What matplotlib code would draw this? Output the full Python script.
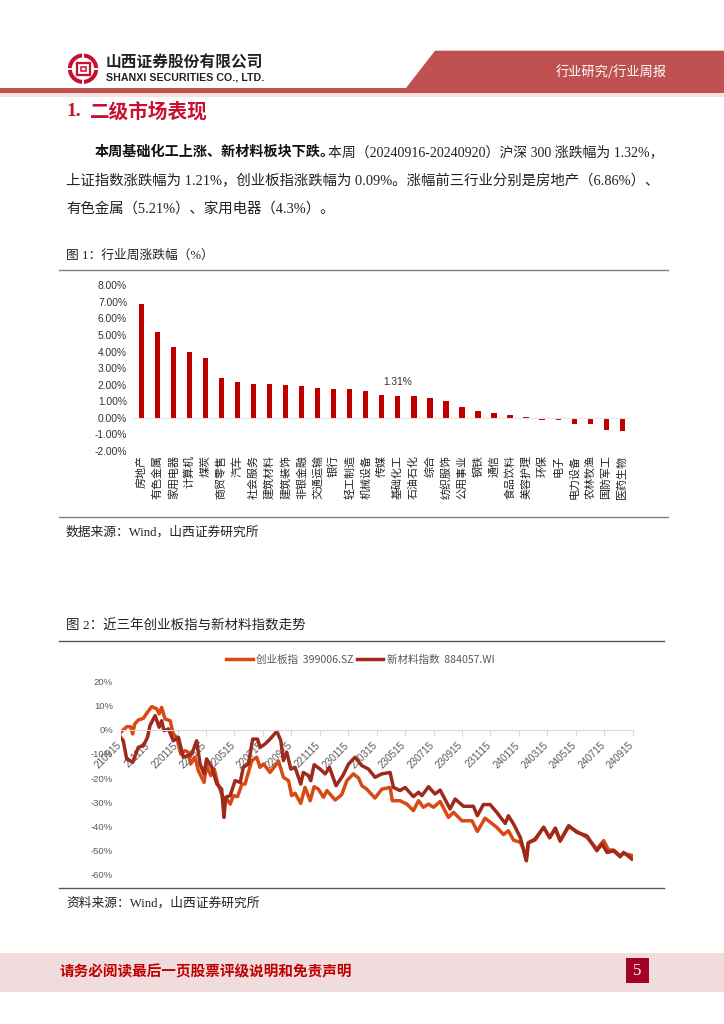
import matplotlib
matplotlib.use("Agg")
import matplotlib.pyplot as plt
from matplotlib.patches import Polygon, Rectangle, Wedge
from matplotlib.transforms import ScaledTranslation

CJK = ['Noto Sans CJK SC', 'DejaVu Sans']
SERIF = ['Liberation Serif', 'Noto Sans CJK SC']
SANS = ['Liberation Sans', 'Noto Sans CJK SC']
plt.rcParams['font.family'] = SANS

# ---- chart 1 data
industries = ['房地产', '有色金属', '家用电器', '计算机', '煤炭', '商贸零售', '汽车', '社会服务',
              '建筑材料', '建筑装饰', '非银金融', '交通运输', '银行', '轻工制造', '机械设备', '传媒',
              '基础化工', '石油石化', '综合', '纺织服饰', '公用事业', '钢铁', '通信', '食品饮料',
              '美容护理', '环保', '电子', '电力设备', '农林牧渔', '国防军工', '医药生物']
weekly_change = [6.86, 5.21, 4.30, 4.00, 3.63, 2.43, 2.18, 2.05, 2.04, 1.98, 1.93, 1.78, 1.77, 1.74,
                 1.60, 1.39, 1.31, 1.30, 1.20, 1.04, 0.65, 0.43, 0.30, 0.19, 0.05, -0.10, -0.13,
                 -0.35, -0.35, -0.76, -0.80]
labelled_industry = '基础化工'

# ---- chart 2 data (x in units of two-month date ticks)
date_ticks = ['210915', '211115', '220115', '220315', '220515', '220715', '220915', '221115', '230115',
              '230315', '230515', '230715', '230915', '231115', '240115', '240315', '240515', '240715',
              '240915']
chinext_x = [0, .09, .21, .35, .42, .49, .62, .80, .94, 1.09, 1.27, 1.35, 1.44, 1.56, 1.74, 1.85, 1.97,
             2.11, 2.26, 2.38, 2.46, 2.61, 2.73, 2.93, 3.02, 3.17, 3.29, 3.40, 3.61, 3.69, 3.85, 3.96,
             4.11, 4.26, 4.37, 4.49, 4.61, 4.78, 4.90, 5.02, 5.25, 5.55, 5.72, 5.90, 6.01, 6.13, 6.33,
             6.48, 6.66, 6.80, 6.95, 7.13, 7.25, 7.54, 7.77, 7.95, 8.18, 8.36, 8.48, 8.65, 8.94, 9.18,
             9.47, 9.55, 9.82, 10.06, 10.29, 10.47, 10.64, 10.82, 11.0, 11.23, 11.52, 11.70, 12.0,
             12.35, 12.54, 12.81, 13.22, 13.46, 13.63, 13.81, 14.05, 14.16, 14.26, 14.34, 14.57,
             14.87, 15.08, 15.28, 15.45, 15.75, 16.04, 16.39, 16.74, 16.98, 17.15, 17.33, 17.56,
             17.68, 18.0]
chinext_y = [-1.1, -.1, 1.2, 1.2, -1.8, 2.3, 4.0, 4.7, 7.2, 9.5, 8.6, 6.5, 9.2, 4.4, 3.7, -1.8, -3.2,
             -10.1, -8.7, -9.4, -14.2, -11.4, -17.0, -21.8, -14.9, -19.0, -16.3, -21.8, -28.7, -28.0,
             -30.8, -27.3, -27.7, -22.5, -22.5, -17.7, -12.8, -11.4, -15.6, -14.2, -17.7, -13.1, -19.7,
             -21.1, -27.3, -26.3, -30.5, -23.9, -29.4, -23.6, -24.6, -28.0, -25.2, -29.1, -26.9, -21.1,
             -18.3, -20.0, -23.2, -24.6, -28.3, -24.6, -23.9, -29.4, -29.4, -30.8, -33.5, -29.4, -32.1,
             -30.8, -32.1, -29.7, -36.3, -34.2, -37.7, -37.7, -42.1, -36.6, -40.4, -43.4, -41.8, -45.7,
             -46.6, -49.4, -54.2, -46.6, -45.7, -40.4, -44.8, -41.1, -46.2, -40.1, -42.1, -44.6, -49.4,
             -45.9, -49.8, -49.8, -52.1, -51.2, -52.1]
newmat_x = [0, .09, .21, .42, .62, .80, .94, 1.03, 1.21, 1.35, 1.44, 1.52, 1.68, 1.85, 2.03, 2.20, 2.50,
            2.67, 2.79, 2.93, 3.02, 3.20, 3.38, 3.55, 3.63, 3.69, 3.85, 4.02, 4.20, 4.31, 4.49, 4.64,
            4.81, 4.90, 5.08, 5.25, 5.49, 5.63, 5.72, 5.84, 5.98, 6.13, 6.33, 6.42, 6.60, 6.68, 6.80,
            7.01, 7.19, 7.34, 7.57, 7.81, 8.01, 8.24, 8.48, 8.71, 8.94, 9.18, 9.47, 9.59, 9.82, 10.0,
            10.29, 10.47, 10.59, 10.82, 11.05, 11.23, 11.58, 11.76, 12.05, 12.40, 12.54, 12.75, 12.99,
            13.22, 13.52, 13.63, 13.81, 14.05, 14.26, 14.32, 14.57, 14.87, 15.08, 15.28, 15.45, 15.75,
            16.04, 16.39, 16.74, 16.92, 17.10, 17.33, 17.56, 17.68, 17.97]
newmat_y = [-3.2, -4.6, -12.1, -13.5, -7.3, -6.6, -3.2, 1.7, 5.8, 1.0, 3.7, -.4, .3, -4.6, -3.2, -11.4,
            -10.1, -4.6, -14.2, -18.3, -12.1, -15.6, -22.5, -24.6, -36.3, -28.0, -27.3, -21.1, -21.8,
            -15.6, -14.2, -3.9, -3.9, -7.3, -5.9, -3.9, -.7, -4.6, -12.8, -9.4, -16.3, -15.6, -22.5,
            -17.7, -19.0, -21.1, -14.5, -16.3, -18.3, -15.6, -23.2, -19.0, -14.2, -11.4, -14.9, -16.3,
            -19.7, -18.3, -17.7, -23.9, -25.2, -23.9, -27.7, -25.9, -27.3, -23.6, -26.6, -25.0, -32.8,
            -28.7, -31.7, -31.7, -35.6, -31.0, -31.0, -34.2, -38.8, -35.6, -39.0, -44.6, -54.2, -47.0,
            -45.2, -40.4, -44.6, -40.7, -45.9, -39.7, -42.5, -43.9, -50.1, -47.3, -50.8, -50.1, -52.6,
            -50.8, -53.5]
chinext_name = '创业板指  399006.SZ'
newmat_name = '新材料指数  884057.WI'

W, H = 724, 1024
RED_BAR = '#C00000'
ORANGE = '#D84A14'
DARK = '#9E2A1C'
GRID = '#D9D9D9'
TICK = '#595959'

fig = plt.figure(figsize=(W / 100, H / 100), dpi=100, facecolor='white')


def px_axes(x0, y0, x1, y1):
    return fig.add_axes([x0 / W, 1 - y1 / H, (x1 - x0) / W, (y1 - y0) / H])


page = fig.add_axes([0, 0, 1, 1], zorder=0)
page.set_xlim(0, W)
page.set_ylim(H, 0)
page.axis('off')

# header
page.add_patch(Polygon([[406, 88], [435, 50.7], [724, 50.7], [724, 88]], fc='#BF5151', ec='none'))
page.add_patch(Rectangle((0, 87.7), W, 5.6, fc='#BF5151', ec='none'))
page.add_patch(Rectangle((0, 93.3), W, 4, fc='#F6E3E1', ec='none'))
LOGO = '#C8102E'
page.add_patch(Wedge((83, 68.7), 15.2, 0, 360, width=4.0, fc=LOGO, ec='none'))
for x0, y0, w, h in [(67, 67.6, 7, 2.2), (92, 67.6, 7, 2.2), (81.9, 52, 2.2, 7), (81.9, 78, 2.2, 7)]:
    page.add_patch(Rectangle((x0, y0), w, h, fc='white', ec='none'))
page.add_patch(Rectangle((76.5, 62.5), 13, 12.5, fc='none', ec=LOGO, lw=1.6))
page.add_patch(Rectangle((80.5, 66.5), 5, 4.5, fc='none', ec=LOGO, lw=1.1))
page.text(106, 63, '山西证券股份有限公司', fontsize=11.3, fontweight='bold', color='#222222',
          family=CJK, va='center')
page.text(106, 77, 'SHANXI SECURITIES CO., LTD.', fontsize=7.7, fontweight='bold', color='#222222',
          family=SANS, va='center')
page.text(556, 72, '行业研究/行业周报', fontsize=9.5, color='white', family=CJK, va='center', fontweight='medium')

# heading and body
page.text(66, 112, '1.', fontsize=14, color='#C8102E', family=SERIF, fontweight='bold', va='center')
page.text(90, 112, '二级市场表现', fontsize=14.1, color='#C8102E', family=CJK, fontweight='bold', va='center')
page.text(95, 152, '本周基础化工上涨、新材料板块下跌。', fontsize=10.15, family=CJK, fontweight='bold',
          color='#111111', va='center')
page.text(328, 152, '本周（20240916-20240920）沪深 300 涨跌幅为 1.32%，', fontsize=10, family=SERIF,
          color='#222222', va='center')
page.text(66, 180.7, '上证指数涨跌幅为 1.21%，创业板指涨跌幅为 0.09%。涨幅前三行业分别是房地产（6.86%）、',
          fontsize=10.37, family=SERIF, color='#222222', va='center')
page.text(66, 209, '有色金属（5.21%）、家用电器（4.3%）。', fontsize=10.4, family=SERIF, color='#222222', va='center')

# captions and rules
page.text(66, 255.7, '图 1：行业周涨跌幅（%）', fontsize=9.2, family=SERIF, color='#222222', va='center')
page.plot([59, 668], [269.8, 269.8], color='#7F7F7F', lw=1)
page.plot([59, 668], [517.3, 517.3], color='#7F7F7F', lw=1)
page.text(66, 532, '数据来源：Wind，山西证券研究所', fontsize=9.2, family=SERIF, color='#222222', va='center')
page.text(66, 625.5, '图 2：近三年创业板指与新材料指数走势', fontsize=9.7, family=SERIF, color='#222222', va='center')
page.plot([59, 664], [641, 641], color='#595959', lw=1)
page.plot([59, 664], [888, 888], color='#595959', lw=1)
page.text(66, 903, '资料来源：Wind，山西证券研究所', fontsize=9.2, family=SERIF, color='#222222', va='center')

# footer
page.add_patch(Rectangle((0, 952.7), W, 39.3, fc='#F0DCDC', ec='none'))
page.add_patch(Rectangle((625.6, 958), 23.4, 25, fc='#A50026', ec='none'))
page.text(637.3, 970.8, '5', color='white', fontsize=12, family=SERIF, ha='center', va='center')
page.text(60, 971.7, '请务必阅读最后一页股票评级说明和免责声明', fontsize=10.5, family=CJK, fontweight='bold',
          color='#C00000', va='center')

# chart 1
ax1 = px_axes(133.3, 285.3, 630.3, 451)
ax1.patch.set_alpha(0)
positions = list(range(len(industries)))
bars = ax1.bar(positions, weekly_change, width=0.33, color=RED_BAR)
ax1.set_xlim(-0.5, len(industries) - 0.5)
ax1.set_ylim(-2, 8)
ax1.set_yticks(range(-2, 9))
ax1.set_yticklabels([f'{v:.2f}%' for v in range(-2, 9)], fontsize=7.4, color='#333333')
ax1.tick_params(axis='y', length=0, pad=4.5)
ax1.tick_params(axis='x', length=0)
ax1.set_xticks(positions)
ax1.set_xticklabels([])
for s in ['top', 'right', 'left', 'bottom']:
    ax1.spines[s].set_visible(False)
ax1.axhline(0, color='#E8E8E8', lw=0.8, zorder=1)
for p, name in zip(positions, industries):
    ax1.annotate(name, (p, -2), xytext=(0, -3.2), textcoords='offset points', rotation=90,
                 ha='center', va='top', fontsize=7.9, family=CJK, color='#222222', annotation_clip=False)
i_lab = industries.index(labelled_industry)
ax1.annotate(f'{weekly_change[i_lab]:.2f}%', (i_lab, weekly_change[i_lab]), xytext=(0, 6.5),
             textcoords='offset points', ha='center', va='bottom', fontsize=7.4, color='#333333')

# chart 2
ax2 = px_axes(120.7, 681.3, 632.7, 874.7)
ax2.patch.set_alpha(0)
for s in ['top', 'right', 'left']:
    ax2.spines[s].set_visible(False)
ax2.spines['bottom'].set_position(('data', 0))
ax2.spines['bottom'].set_color(GRID)
ax2.spines['bottom'].set_linewidth(0.8)
line1, = ax2.plot(chinext_x, chinext_y, color=ORANGE, lw=2.5, solid_joinstyle='round', label=chinext_name)
line2, = ax2.plot(newmat_x, newmat_y, color=DARK, lw=2.5, solid_joinstyle='round', label=newmat_name)
ax2.set_xlim(0, len(date_ticks) - 1)
ax2.set_ylim(-60, 20)
ax2.set_yticks(range(-60, 21, 10))
ax2.set_yticklabels([f'{v}%' for v in range(-60, 21, 10)], fontsize=6.8, color=TICK)
ax2.tick_params(axis='y', length=0, pad=5.5)
ax2.set_xticks(range(len(date_ticks)))
ax2.set_xticklabels(date_ticks, rotation=45, ha='right', rotation_mode='anchor', fontsize=7.1, color=TICK)
ax2.tick_params(axis='x', length=4, width=0.8, color=GRID, pad=5)
shift = ScaledTranslation(-4.5 / 100, 2 / 100, fig.dpi_scale_trans)
for lab in ax2.get_xticklabels():
    lab.set_transform(lab.get_transform() + shift)
ax2.legend(handles=[line1, line2], ncol=2, frameon=False, loc='center',
           bbox_to_anchor=((226.7 + 494) / 2 / W, 1 - 659.7 / H), bbox_transform=fig.transFigure,
           prop={'family': CJK, 'size': 7.6}, labelcolor=TICK, handlelength=2.5, handletextpad=0.35,
           columnspacing=0.3, borderpad=0, borderaxespad=0)

fig.savefig('out.png', dpi=100)
